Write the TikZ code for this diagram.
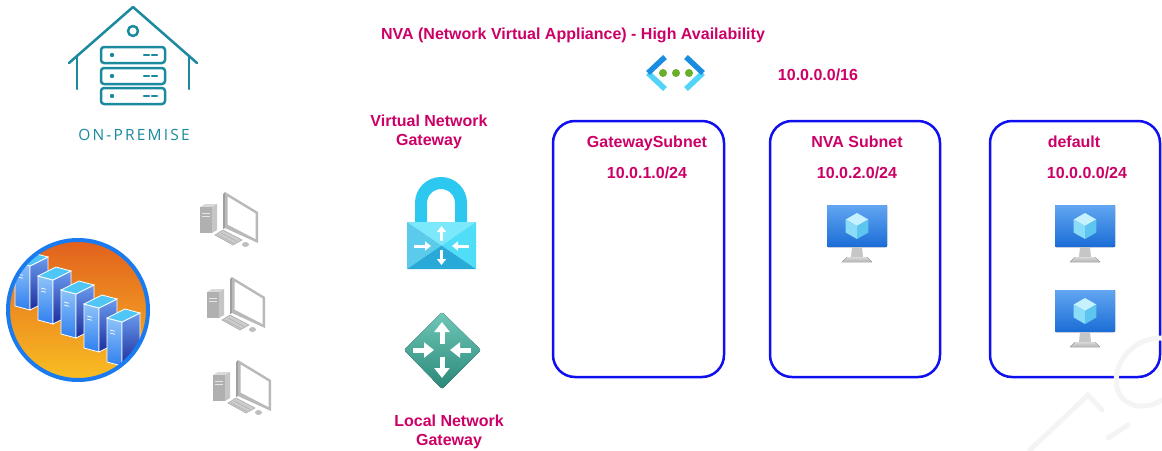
\documentclass[tikz,border=0pt]{standalone}
\usepackage{fontspec}
\setmainfont{Liberation Sans}
\newfontfamily\premfont[LetterSpace=14]{Open Sans}
\usetikzlibrary{positioning,arrows.meta}
% couleurs
\definecolor{rose}{HTML}{CC0066}
\definecolor{sarcelle}{HTML}{1B8A9E}
\definecolor{bleucadre}{HTML}{0F0FEF}
\definecolor{ecranhaut}{HTML}{62A6F2}
\definecolor{ecranbas}{HTML}{1A6CD6}
\definecolor{cubehaut}{HTML}{C6F1FF}
\definecolor{cubegauche}{HTML}{8ADCF8}
\definecolor{cubedroite}{HTML}{5CC6F0}
\definecolor{bouclier}{HTML}{2CC8F0}
\definecolor{vnetfonce}{HTML}{1B8DE0}
\definecolor{vnetclair}{HTML}{52D4F8}
\definecolor{vnetpoint}{HTML}{6AAF2A}
\tikzset{
  titre/.style={text=rose,font=\fontsize{16}{19}\selectfont\bfseries,align=center,inner sep=0pt,anchor=base},
  sousreseau/.style={draw=bleucadre,line width=2.5pt,rounded corners=22pt,inner sep=0pt},
  fleche/.style={color=white,line width=#1,-{Triangle[width=3*#1,length=2*#1]}},
  % poste de travail gris
  poste/.pic={
    \fill[color=gray!30] (0,2) -- (5,-1) -- (17,-1) -- (12,2) -- cycle;
    \fill[color=gray!62] (0,2) rectangle (12,28);
    \fill[color=gray!45] (12,2) -- (17,-1) -- (17,25) -- (12,28) -- cycle;
    \draw[color=gray!20,line width=0.8] (2,8) -- (10,8) (2,11) -- (10,11);
    \fill[color=gray!75] (23,-11) -- (25,-13) -- (25,23) -- (23,24) -- cycle;
    \fill[color=gray!55] (25,-13) -- (58,7) -- (58,38) -- (25,23) -- cycle;
    \fill[color=white] (27.5,-8.5) -- (55.5,8.5) -- (55.5,34) -- (27.5,19.5) -- cycle;
    \fill[color=gray!40,draw=gray!65,line width=0.6] (15,30) -- (23,25) -- (42,35) -- (33,40) -- cycle;
    \draw[color=gray!65,line width=0.5] (18,30) -- (34,38.5) (21,28) -- (37,36.5);
    \fill[color=gray!50] (45.5,39.5) ellipse (3.5 and 2.5);
  },
  % machine virtuelle
  vm/.pic={
    \fill[top color=ecranhaut,bottom color=ecranbas,rounded corners=1] (-30,-21) rectangle (30,21);
    \fill[color=cubehaut] (0,-13) -- (11.3,-6.5) -- (0,0) -- (-11.3,-6.5) -- cycle;
    \fill[color=cubegauche] (-11.3,-6.5) -- (0,0) -- (0,13) -- (-11.3,6.5) -- cycle;
    \fill[color=cubedroite] (0,0) -- (11.3,-6.5) -- (11.3,6.5) -- (0,13) -- cycle;
    \fill[color=gray!45] (-5,21) -- (5,21) -- (6,31) -- (-6,31) -- cycle;
    \fill[top color=gray!30,bottom color=gray!60] (-10,31) -- (10,31) -- (15,36) -- (-15,36) -- cycle;
  },
  % serveur bleu de la baie
  serveur/.pic={
    \shade[top color={rgb,255:red,143;green,195;blue,247},bottom color={rgb,255:red,47;green,127;blue,240},draw=white,line width=0.8] (0,0) -- (15,4) -- (15,48) -- (0,44) -- cycle;
    \shade[top color={rgb,255:red,106;green,155;blue,239},bottom color={rgb,255:red,28;green,45;blue,156},draw=white,line width=0.8] (15,4) -- (33,-5) -- (33,39) -- (15,48) -- cycle;
    \fill[color={rgb,255:red,79;green,198;blue,247},draw=white,line width=0.8] (0,0) -- (18,-9) -- (33,-5) -- (15,4) -- cycle;
    \draw[color=white,line width=0.7] (3,12) -- (8,13.3) (3,15) -- (8,16.3);
  },
}
\begin{document}
\begin{tikzpicture}[x=1pt,y=-1pt]
\useasboundingbox (0,0) rectangle (1162,450);
% la maison (on-premise)
\begin{scope}[color=sarcelle,line width=2.5pt,line cap=round,line join=round]
\draw (69,63) -- (133,7) -- (197,63);
\draw (77,56) -- (77,89);
\draw (189,56) -- (189,89);
\draw (133,31) circle (5);
\foreach \y in {47,68,88} {
  \draw[rounded corners=3] (101,\y) rectangle (165,\y+16);
  \fill (112,\y+8) circle (2.2);
  \draw (144,\y+8) -- (149,\y+8) (152,\y+8) -- (157,\y+8);
}
\end{scope}
\node[text=sarcelle,font=\premfont\fontsize{15.5}{18}\selectfont,anchor=base,inner sep=0pt] (onprem) at (134,140) {ON-PREMISE};
% le centre de données (cercle)
\fill[top color={rgb,255:red,226;green,96;blue,30},bottom color={rgb,255:red,249;green,190;blue,34}] (78,310) circle (70);
\begin{scope}
\clip (78,310) circle (70);
\foreach \i in {0,...,4}
  \pic at (15+23*\i,262+14*\i) {serveur};
\end{scope}
\draw[color={rgb,255:red,26;green,123;blue,240},line width=4pt] (78,310) circle (70);
% les trois postes
\pic (pc1) at (200,205) {poste};
\pic (pc2) at (207,290) {poste};
\pic (pc3) at (213,373) {poste};
% passerelle VPN (cadenas)
\draw[color=bouclier,line width=12pt] (421,225) -- (421,203) arc[start angle=180,end angle=360,radius=20] -- (461,225);
\coordinate (cadenas) at (441.5,245.5);
\fill[color={rgb,255:red,123;green,232;blue,251}] (407,222) -- (476,222) -- (cadenas) -- cycle;
\fill[color={rgb,255:red,90;green,203;blue,234}] (407,222) -- (cadenas) -- (407,269) -- cycle;
\fill[color={rgb,255:red,79;green,221;blue,248}] (476,222) -- (476,269) -- (cadenas) -- cycle;
\fill[color={rgb,255:red,41;green,169;blue,216}] (407,269) -- (476,269) -- (cadenas) -- cycle;
\draw[fleche=3] (441.5,241) -- (441.5,226);
\draw[fleche=3] (441.5,250) -- (441.5,265);
\draw[fleche=3] (414,246) -- (431,246);
\draw[fleche=3] (469,246) -- (452,246);
% passerelle locale (losange)
\fill[top color={rgb,255:red,111;green,199;blue,183},bottom color={rgb,255:red,42;green,136;blue,121},rounded corners=2] (442,312) -- (481,350) -- (442,389) -- (404,350) -- cycle;
\draw[fleche=5] (442,344) -- (442,322);
\draw[fleche=5] (442,357) -- (442,378);
\draw[fleche=5] (413,350) -- (434,350);
\draw[fleche=5] (471,350) -- (450,350);
% icone du reseau virtuel
\draw[color=vnetclair,line width=5.5pt] (648,73) -- (665,89);
\draw[color=vnetfonce,line width=5.5pt] (665,57) -- (648,73);
\draw[color=vnetclair,line width=5.5pt] (703,73) -- (686,89);
\draw[color=vnetfonce,line width=5.5pt] (686,57) -- (703,73);
\foreach \x in {663,676,689}
  \fill[color=vnetpoint] (\x,73) circle (4);
% les textes
\node[titre] (titreNVA) at (573,39) {NVA (Network Virtual Appliance) - High Availability};
\node[titre] (plage) at (818,80) {10.0.0.0/16};
\node[titre] (vng) at (429,145.5) {Virtual Network\\Gateway};
\node[titre] (lng) at (449,445.5) {Local Network\\Gateway};
% les sous-reseaux
\node[sousreseau,minimum width=171pt,minimum height=256pt] (gwsubnet) at (638.5,249) {};
\node[sousreseau,minimum width=170pt,minimum height=256pt] (nvasubnet) at (855,249) {};
\node[sousreseau,minimum width=170pt,minimum height=256pt] (defsubnet) at (1075,249) {};
\node[titre] (gwnom) at (647,147) {GatewaySubnet};
\node[titre] (gwplage) at (647,178) {10.0.1.0/24};
\node[titre] (nvanom) at (857,147) {NVA Subnet};
\node[titre] (nvaplage) at (857,178) {10.0.2.0/24};
\node[titre] (defnom) at (1074,147) {default};
\node[titre] (defplage) at (1087,178) {10.0.0.0/24};
% les machines virtuelles
\pic (vmnva) at (857,226) {vm};
\pic (vmdef1) at (1085,226) {vm};
\pic (vmdef2) at (1085,311) {vm};
% filigrane
\begin{scope}[color=gray!9,line width=5pt,line cap=round]
\draw (1162,338) .. controls (1125,338) and (1108,375) .. (1120,395) .. controls (1130,410) and (1150,408) .. (1162,400);
\draw (1030,450) -- (1088,395) -- (1102,410);
\draw (1108,438) -- (1128,425);
\end{scope}
\end{tikzpicture}
\end{document}
